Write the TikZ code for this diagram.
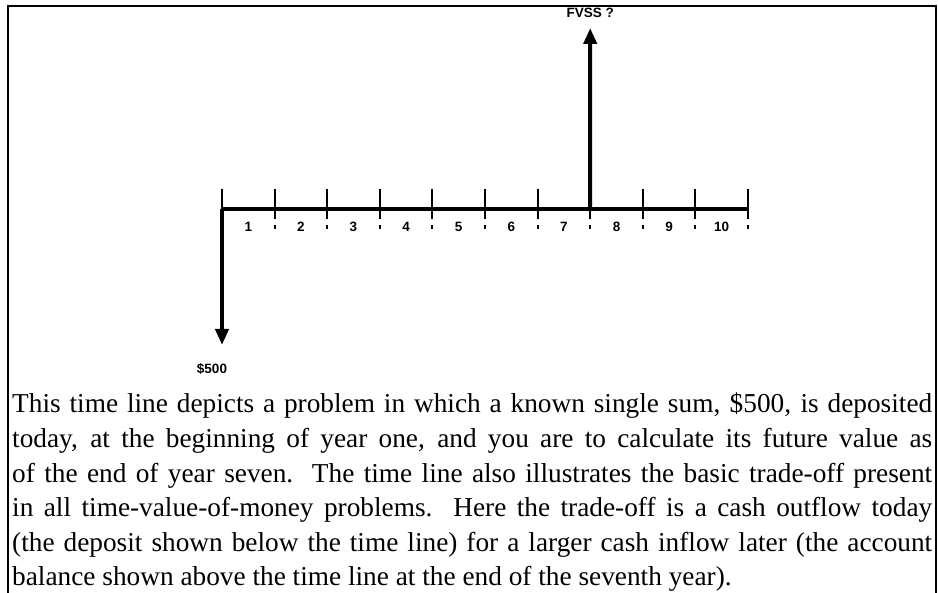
\documentclass[tikz,border=0pt]{standalone}
\usepackage{fontspec}
\setmainfont{Liberation Serif}
\newfontfamily\lblfont{Liberation Sans}
\usetikzlibrary{arrows.meta,calc}
\begin{document}
\begin{tikzpicture}[x=1pt,y=-1pt,
  frame/.style={line width=2.5pt,line join=miter},
  axis/.style={line width=3.2pt},
  tickline/.style={line width=2pt},
  flow/.style={line width=4pt,-{Triangle[length=16pt,width=13pt]}},
  lbl/.style={font=\lblfont\bfseries\fontsize{13.5}{15}\selectfont, inner sep=0pt},
  para/.style={anchor=base west, inner sep=0pt, text width=920pt, align=justify,
    font=\fontsize{27.3}{34.6}\selectfont}
]
\useasboundingbox (0,0) rectangle (938,593);
% frame
\draw[frame] (8,593) -- (8,6) -- (936,6) -- (936,593);
% timeline coordinates
\foreach \i in {0,...,10} {
  \coordinate (t\i) at ({222+52.6*\i},209);
}
\draw[axis] (t0) -- (t10);
% ticks
\draw[tickline] (t0) ++(0,-20) -- ++(0,22);
\foreach \i in {1,...,10} {
  \draw[tickline] (t\i) ++(0,-20) -- ++(0,30);
  \draw[tickline] (t\i) ++(0,16) -- ++(0,4);
}
% year labels
\foreach \i [evaluate=\i as \j using int(\i-1)] in {1,...,10} {
  \node[lbl] (y\i) at ($(t\j)!0.5!(t\i)+(0,17.5)$) {\i};
}
% cash flows
\coordinate (uptip) at (590.2,28);
\coordinate (downtip) at (222,345);
\node[lbl] (fv) at (590.2,13) {FVSS ?};
\node[lbl] (pv) at (212,369) {\$500};
\draw[flow] (t7) -- (uptip);
\draw[flow] (t0) -- (downtip);
% description
\node[para] (desc) at (12,413) {This time line depicts a problem in which a known single sum, \$500, is deposited\linebreak today, at the beginning of year one, and you are to calculate its future value as\linebreak of the end of year seven.\ \ The time line also illustrates the basic trade-off present\linebreak in all time-value-of-money problems.\ \ Here the trade-off is a cash outflow today\linebreak (the deposit shown below the time line) for a larger cash inflow later (the account\linebreak balance shown above the time line at the end of the seventh year).};
\end{tikzpicture}
\end{document}
